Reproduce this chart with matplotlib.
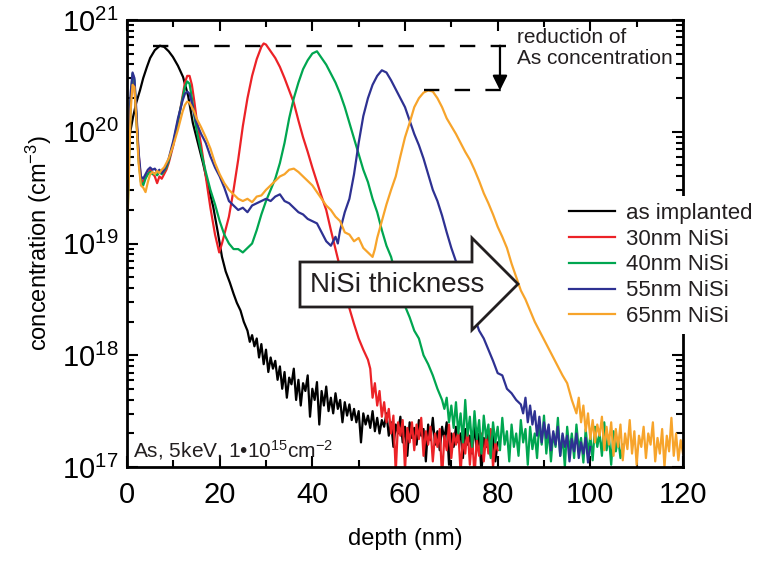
import numpy as np
import matplotlib
matplotlib.use("Agg")
import matplotlib.pyplot as plt
from matplotlib.patches import Polygon
from matplotlib.ticker import MultipleLocator, LogLocator, NullFormatter

plt.rcParams['font.family'] = ['Liberation Sans', 'DejaVu Sans']
plt.rcParams['mathtext.fontset'] = 'custom'
plt.rcParams['mathtext.rm'] = 'Liberation Sans'
plt.rcParams['mathtext.it'] = 'Liberation Sans:italic'

# ---- data: depth (nm) and log10 of As concentration (cm^-3) ----
# as implanted
impl_depth = [0, 0.3, 0.7, 1.3, 2.0, 2.8, 3.5, 4.3, 5.0, 6.0, 7.1, 8.0, 9.0, 9.9, 11.0, 12.1,
              13.2, 14.2, 15.3, 16.4, 17.5, 18.6, 19.6, 20.5, 21.3, 22.2, 23.0, 23.7, 24.5, 25.2]
impl_log = [19.3, 19.9, 20.0, 20.13, 20.26, 20.37, 20.48, 20.58, 20.66, 20.73, 20.77, 20.76, 20.72,
            20.67, 20.59, 20.49, 20.32, 20.08, 19.90, 19.72, 19.52, 19.33, 19.10, 18.88, 18.75,
            18.65, 18.55, 18.47, 18.40, 18.30]
impl_tail = [18.22, 18.12, 18.18, 18.08, 18.15, 17.98, 18.10, 17.92, 18.05, 17.85, 17.98, 17.88,
             17.95, 17.78, 17.90, 17.70, 17.85, 17.62, 17.80, 17.74, 17.88, 17.60, 17.78, 17.55,
             17.75, 17.68, 17.82, 17.45, 17.70, 17.60, 17.76, 17.38, 17.68, 17.55, 17.72, 17.50,
             17.62, 17.48, 17.66, 17.52, 17.60, 17.40, 17.58, 17.46, 17.56, 17.42, 17.52, 17.40,
             17.50, 17.22, 17.48, 17.38, 17.46, 17.35, 17.50, 17.32, 17.44, 17.30, 17.42, 17.36,
             17.48, 17.28, 17.40, 17.18, 17.38, 17.30, 17.45, 17.22, 17.36, 17.10, 17.40, 17.26,
             17.35, 17.20, 17.42, 17.28, 17.34, 17.05, 17.38, 17.24, 17.44, 17.20, 17.32, 17.15,
             17.36, 17.25, 17.40, 17.02, 17.30, 17.18, 17.36, 17.22, 17.30, 17.08, 17.34, 17.20,
             17.28, 17.12, 17.38, 17.16, 17.30, 16.95, 17.26, 17.18, 17.32, 17.10, 17.28, 17.05,
             17.22]
impl_tail_start = 26.0

# 30 nm NiSi
ni30_depth = [0, 0.4, 0.8, 1.2, 1.6, 2.0, 2.5, 3.0, 3.5, 4.0, 4.5, 5.0, 5.5, 6.0, 6.5, 7.0, 7.5,
              8.0, 8.5, 9.0, 9.5, 10.0, 10.5, 11.0, 11.5, 12.0, 12.5, 13.0, 13.5, 14.0, 14.5, 15.0,
              16, 17, 18, 19, 19.9, 20.5, 21, 22, 23, 24, 25, 26, 27, 28, 29, 29.5, 30, 31, 32, 33,
              34, 35, 36, 37, 38, 39, 40, 41, 42, 43, 44, 45, 46, 47, 48, 49, 50, 51, 52]
ni30_log = [19.2, 19.8, 20.3, 20.46, 20.40, 20.15, 19.8, 19.58, 19.54, 19.60, 19.62, 19.66, 19.63,
            19.60, 19.54, 19.60, 19.58, 19.62, 19.66, 19.72, 19.80, 19.88, 19.98, 20.08, 20.2,
            20.32, 20.44, 20.50, 20.50, 20.42, 20.28, 20.12, 19.88, 19.6, 19.32, 19.08, 18.92,
            19.0, 19.08, 19.24, 19.48, 19.75, 20.05, 20.3, 20.5, 20.65, 20.76, 20.79, 20.78, 20.72,
            20.66, 20.58, 20.48, 20.37, 20.26, 20.1, 19.95, 19.82, 19.68, 19.55, 19.42, 19.3,
            19.12, 18.95, 18.78, 18.62, 18.42, 18.28, 18.15, 18.05, 17.96]
ni30_tail = [17.88, 17.62, 17.75, 17.55, 17.68, 17.45, 17.58, 17.40, 17.52, 17.30, 17.46, 16.95,
             17.40, 17.28, 17.42, 16.98, 17.35, 17.22, 17.40, 17.15, 17.38, 17.25, 17.44, 17.10,
             17.32, 17.20, 17.36, 17.05, 17.30, 17.18, 17.34, 16.90, 17.28, 17.15, 17.38, 17.08,
             17.30, 17.20, 17.32, 16.95, 17.26, 17.12, 17.35, 17.02, 17.28, 16.92, 17.24, 17.10,
             17.30, 17.05, 17.28, 17.12, 17.34, 17.00, 17.22, 17.15]
ni30_tail_start = 52.5

# 40 nm NiSi
ni40_depth = [0, 0.4, 0.8, 1.2, 1.6, 2.0, 2.5, 3.0, 3.5, 4.0, 4.5, 5.0, 5.5, 6.0, 6.5, 7.0, 7.5,
              8.0, 8.5, 9.0, 9.5, 10.0, 10.5, 11.0, 11.5, 12.0, 12.5, 13.0, 13.5, 14.0, 14.5, 15.0,
              16, 17, 18, 19, 20, 21, 22, 23, 24, 25, 26, 27, 28, 29, 30, 31, 32, 33, 34, 35, 36,
              37, 38, 39, 40, 41, 42, 43, 44, 45, 46, 47, 48, 49, 50, 51, 52, 53, 54, 55, 56, 57,
              58, 59, 60, 61, 62, 63, 64, 65, 66, 67, 68]
ni40_log = [19.0, 19.7, 20.3, 20.52, 20.46, 20.15, 19.75, 19.55, 19.52, 19.58, 19.62, 19.64, 19.62,
            19.63, 19.61, 19.64, 19.62, 19.65, 19.68, 19.74, 19.82, 19.9, 20.0, 20.1, 20.2, 20.3,
            20.40, 20.45, 20.43, 20.3, 20.15, 20.02, 19.82, 19.64, 19.48, 19.35, 19.2, 19.08, 19.0,
            18.95, 18.95, 18.92, 18.96, 19.0, 19.12, 19.26, 19.38, 19.48, 19.58, 19.72, 19.9,
            20.12, 20.3, 20.44, 20.56, 20.64, 20.70, 20.72, 20.66, 20.6, 20.52, 20.44, 20.34,
            20.22, 20.08, 19.94, 19.8, 19.66, 19.55, 19.4, 19.28, 19.12, 18.98, 18.88, 18.72,
            18.56, 18.44, 18.34, 18.22, 18.15, 18.0, 17.92, 17.82, 17.7, 17.6]
ni40_tail = [17.52, 17.62, 17.40, 17.55, 17.35, 17.58, 17.30, 17.48, 17.22, 17.60, 17.28, 17.45,
             17.18, 17.50, 17.25, 17.42, 17.12, 17.46, 17.26, 17.38, 17.08, 17.40, 17.22, 17.36,
             17.15, 17.44, 17.20, 17.32, 17.05, 17.38, 17.18, 17.30, 17.10, 17.42, 17.22, 17.34,
             17.02, 17.36, 17.16, 17.30, 17.08, 17.40, 17.20, 17.46, 17.12, 17.34, 17.05, 17.30,
             17.18, 17.44, 17.10, 17.28, 17.00, 17.36, 17.14, 17.30, 17.08, 17.38, 17.16, 17.26,
             17.04, 17.34, 17.12, 17.28, 17.06, 17.36, 17.18, 17.30, 17.10, 17.40, 17.15, 17.28,
             17.02, 17.32, 17.14, 17.26, 17.08, 17.20]
ni40_tail_start = 68.5

# 55 nm NiSi
ni55_depth = [0, 0.4, 0.8, 1.2, 1.6, 2.0, 2.5, 3.0, 3.5, 4.0, 4.5, 5.0, 5.5, 6.0, 6.5, 7.0, 7.5,
              8.0, 8.5, 9.0, 9.5, 10.0, 10.5, 11.0, 11.5, 12.0, 12.5, 13.0, 13.5, 14.0, 14.5, 15.0,
              16, 17, 18, 19, 20, 21, 22, 23, 24, 25, 26, 27, 28, 29, 30, 31, 32, 33, 34, 35, 36,
              37, 38, 39, 40, 41, 42, 43, 44, 45, 45.5, 46, 47, 48, 49, 50, 51, 52, 53, 54, 55, 56,
              57, 58, 59, 60, 61, 62, 63, 64, 65, 66, 67, 68, 69, 70, 71, 72, 73, 74, 75, 76, 77,
              78, 79, 80, 81, 82, 83, 84, 85]
ni55_log = [19.1, 19.8, 20.35, 20.53, 20.48, 20.2, 19.82, 19.6, 19.58, 19.62, 19.66, 19.68, 19.66,
            19.67, 19.64, 19.66, 19.63, 19.66, 19.70, 19.76, 19.84, 19.92, 20.02, 20.12, 20.2,
            20.28, 20.34, 20.36, 20.34, 20.26, 20.16, 20.08, 19.98, 19.9, 19.78, 19.68, 19.6,
            19.5, 19.38, 19.34, 19.30, 19.32, 19.28, 19.34, 19.36, 19.38, 19.40, 19.38, 19.42,
            19.44, 19.38, 19.36, 19.32, 19.28, 19.26, 19.22, 19.2, 19.18, 19.1, 19.02, 18.98,
            19.06, 19.0, 19.12, 19.28, 19.4, 19.62, 19.9, 20.14, 20.3, 20.42, 20.5, 20.55, 20.53,
            20.46, 20.38, 20.3, 20.22, 20.1, 19.98, 19.88, 19.76, 19.62, 19.48, 19.38, 19.25,
            19.1, 18.96, 18.84, 18.72, 18.6, 18.48, 18.34, 18.22, 18.15, 18.05, 17.95, 17.84,
            17.82, 17.7, 17.66, 17.6, 17.56]
ni55_tail = [17.48, 17.62, 17.40, 17.55, 17.38, 17.50, 17.28, 17.45, 17.22, 17.40, 17.26, 17.38,
             17.15, 17.32, 17.20, 17.36, 17.10, 17.30, 17.18, 17.28, 17.05, 17.25, 17.14, 17.30,
             17.08, 17.22, 17.12, 17.26, 17.04, 17.18]
ni55_tail_start = 85.5

# 65 nm NiSi
ni65_depth = [0, 0.4, 0.8, 1.2, 1.6, 2.0, 2.5, 3.0, 3.5, 4.0, 4.5, 5.0, 5.5, 6.0, 6.5, 7.0, 7.5,
              8.0, 8.5, 9.0, 9.5, 10.0, 10.5, 11.0, 11.5, 12.0, 12.5, 13.0, 13.5, 14.0, 14.5, 15,
              16, 17, 18, 19, 20, 21, 22, 23, 24, 25, 26, 27, 28, 29, 30, 31, 32, 33, 34, 35, 36,
              37, 38, 39, 40, 41, 42, 43, 44, 45, 46, 47, 48, 49, 50, 51, 52, 53, 53.5, 54, 55, 56,
              57, 58, 59, 60, 61, 62, 63, 64, 65, 66, 67, 68, 69, 70, 71, 72, 73, 74, 75, 76, 77,
              78, 79, 80, 81, 82, 83, 84, 85, 86, 87, 88, 89, 90, 91, 92, 93, 94, 95, 96, 97]
ni65_log = [19.0, 19.6, 20.2, 20.42, 20.40, 20.12, 19.72, 19.52, 19.50, 19.46, 19.55, 19.62, 19.64,
            19.62, 19.65, 19.63, 19.66, 19.68, 19.72, 19.76, 19.82, 19.88, 19.95, 20.02, 20.1,
            20.18, 20.24, 20.27, 20.26, 20.22, 20.18, 20.12, 20.04, 19.95, 19.85, 19.72, 19.62,
            19.54, 19.48, 19.44, 19.40, 19.38, 19.40, 19.37, 19.42, 19.43, 19.48, 19.52, 19.56,
            19.60, 19.62, 19.66, 19.67, 19.64, 19.6, 19.56, 19.52, 19.46, 19.40, 19.34, 19.30,
            19.24, 19.2, 19.1, 19.08, 19.02, 19.05, 18.96, 18.92, 18.88, 18.95, 19.05, 19.2, 19.35,
            19.48, 19.6, 19.78, 19.95, 20.08, 20.22, 20.3, 20.35, 20.37, 20.36, 20.3, 20.22, 20.12,
            20.05, 19.98, 19.9, 19.82, 19.75, 19.66, 19.56, 19.45, 19.36, 19.26, 19.15, 19.06,
            18.96, 18.82, 18.7, 18.58, 18.5, 18.4, 18.3, 18.22, 18.14, 18.06, 17.98, 17.9, 17.82,
            17.75, 17.6, 17.48]
ni65_tail = [17.62, 17.40, 17.55, 17.32, 17.48, 17.25, 17.42, 17.22, 17.38, 17.28, 17.45, 17.15,
             17.36, 17.20, 17.40, 17.10, 17.34, 17.18, 17.38, 17.06, 17.30, 17.16, 17.42, 17.12,
             17.32, 17.02, 17.28, 17.18, 17.36, 17.08, 17.30, 17.20, 17.40, 17.05, 17.26, 17.12,
             17.34, 17.00, 17.28, 17.14, 17.44, 17.10, 17.30, 17.06, 17.24, 17.12]
ni65_tail_start = 97.5

labels = ["as implanted", "30nm NiSi", "40nm NiSi", "55nm NiSi", "65nm NiSi"]
colors = ["#000000", "#EC2227", "#00A650", "#2E3192", "#F7A42B"]


def build(depth, logc, tail, start):
    d = np.concatenate([depth, start + 0.5 * np.arange(len(tail))])
    c = 10 ** np.concatenate([logc, tail])
    return d, c


series = [build(impl_depth, impl_log, impl_tail, impl_tail_start),
          build(ni30_depth, ni30_log, ni30_tail, ni30_tail_start),
          build(ni40_depth, ni40_log, ni40_tail, ni40_tail_start),
          build(ni55_depth, ni55_log, ni55_tail, ni55_tail_start),
          build(ni65_depth, ni65_log, ni65_tail, ni65_tail_start)]

fig = plt.figure(figsize=(7.6, 5.61), dpi=100)
ax = fig.add_axes([127 / 760, 1 - 467 / 561, 556 / 760, 447 / 561])

for (d, c), lab, col in zip(series, labels, colors):
    ax.plot(d, c, color=col, lw=1.6, label=lab)

ax.set_yscale('log')
ax.set_xlim(0, 120)
ax.set_ylim(1e17, 1e21)
ax.xaxis.set_major_locator(MultipleLocator(20))
ax.xaxis.set_minor_locator(MultipleLocator(10))
ax.yaxis.set_major_locator(LogLocator(base=10, numticks=10))
ax.yaxis.set_minor_locator(LogLocator(base=10, subs=np.arange(2, 10), numticks=10))
ax.yaxis.set_minor_formatter(NullFormatter())
ax.tick_params(which='both', direction='in', top=True, right=True, width=1.5)
ax.tick_params(which='major', length=8)
ax.tick_params(which='minor', length=5)
ax.tick_params(axis='x', which='major', labelsize=21, pad=10)
ax.tick_params(axis='y', which='major', labelsize=21, pad=6)
for s in ax.spines.values():
    s.set_linewidth(2)

ax.set_xlabel("depth (nm)", fontsize=17, labelpad=14)
ax.set_ylabel("concentration (cm$^{-3}$)", fontsize=17, labelpad=6)

# reduction of peak concentration: as-implanted peak vs. 65 nm NiSi peak in the silicide
impl_d, impl_c = series[0]
o_d, o_c = series[4]
deep = o_d > 50
top = impl_c.max()
bot = o_c[deep].max()
ax.plot([impl_d[impl_c.argmax()] - 1.5, 82], [top, top], 'k--', lw=1.7, dashes=(6.5, 6.5))
ax.plot([o_d[deep][o_c[deep].argmax()] - 1.0, 82], [bot, bot], 'k--', lw=1.7, dashes=(6.5, 6.5))
ax.annotate('', xy=(80.5, bot), xytext=(80.5, top),
            arrowprops=dict(arrowstyle='-|>', color='k', lw=1.6, mutation_scale=22,
                            shrinkA=0, shrinkB=0))
ax.text(84.2, 10 ** 20.93, "reduction of\nAs concentration", fontsize=15, va='top', ha='left',
        color='#231F20', linespacing=1.15)

# big arrow
def axf(px, py):
    return ((px - 127) / 556, (467 - py) / 447)

pts = [axf(300, 262), axf(472, 262), axf(472, 238), axf(518, 284), axf(472, 330),
       axf(472, 307), axf(300, 307)]
ax.add_patch(Polygon(pts, closed=True, facecolor='white', edgecolor='#231F20', lw=2,
                     transform=ax.transAxes, zorder=4))
ax.text(*axf(397, 285), "NiSi thickness", transform=ax.transAxes, fontsize=20,
        ha='center', va='center', color='#231F20', zorder=5)

ax.text(*axf(133, 457), "As, 5keV, 1\u202210$^{15}$cm$^{-2}$", transform=ax.transAxes,
        fontsize=15, ha='left', va='baseline', color='#231F20')

leg = ax.legend(loc='upper left', bbox_to_anchor=(562 / 760, 1 - 196 / 561),
                bbox_transform=fig.transFigure, fontsize=16, frameon=True, fancybox=False,
                facecolor='white', edgecolor='none', framealpha=1, borderpad=0.3,
                borderaxespad=0, handlelength=2.1, handletextpad=0.5, labelspacing=0.22)
for t in leg.get_texts():
    t.set_color('#231F20')

fig.savefig("out.png", dpi=100)
